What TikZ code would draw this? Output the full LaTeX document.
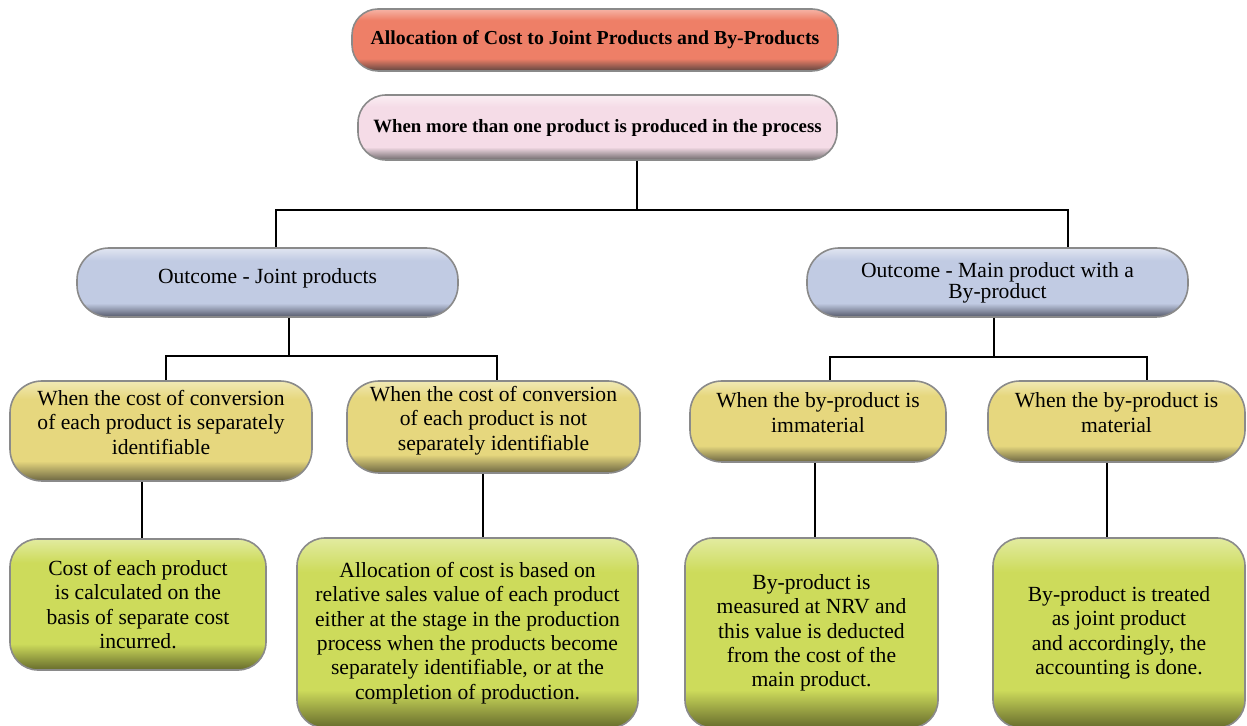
\documentclass[tikz,border=0pt]{standalone}
\usepackage{fontspec}
\setmainfont{Liberation Serif}
\usetikzlibrary{calc}

\definecolor{boxline}{HTML}{8A8A8A}
\definecolor{redMain}{HTML}{EE7F67}
\definecolor{redTop}{HTML}{F6B4A6}
\definecolor{redLow}{HTML}{5E4540}
\definecolor{pinkMain}{HTML}{F5DCE7}
\definecolor{pinkTop}{HTML}{FBEFF4}
\definecolor{pinkLow}{HTML}{6E696B}
\definecolor{blueMain}{HTML}{C1CBE3}
\definecolor{blueTop}{HTML}{E1E5F1}
\definecolor{blueLow}{HTML}{55596A}
\definecolor{yelMain}{HTML}{E6D77E}
\definecolor{yelTop}{HTML}{F1E9B5}
\definecolor{yelLow}{HTML}{6C6642}
\definecolor{grnMain}{HTML}{CDDB5B}
\definecolor{grnTop}{HTML}{E2EBA0}
\definecolor{grnLow}{HTML}{666B2C}

% glossy fill: light top, flat middle, dark band at the bottom
\newcommand{\glossy}[4]{%
  \pgfdeclareverticalshading{#1}{100bp}{%
    color(0bp)=(#4); color(25bp)=(#4); color(35bp)=(#2);
    color(66bp)=(#2); color(75bp)=(#3); color(100bp)=(#3)}}
\glossy{redgloss}{redMain}{redTop}{redLow}
\glossy{pinkgloss}{pinkMain}{pinkTop}{pinkLow}
\glossy{bluegloss}{blueMain}{blueTop}{blueLow}
\glossy{yelgloss}{yelMain}{yelTop}{yelLow}
\glossy{grngloss}{grnMain}{grnTop}{grnLow}

\begin{document}
\begin{tikzpicture}[
  x=0.5pt, y=-0.5pt,
  every node/.style={
    draw=boxline,
    line width=0.8pt,
    shade,
    align=center,
    inner sep=0pt,
    rounded corners=14pt,
    font=\fontsize{10.8}{12.2}\selectfont,
  },
  head/.style={shading=redgloss, rounded corners=13pt,
    font=\fontsize{9.9}{12}\selectfont\bfseries},
  case/.style={shading=pinkgloss, rounded corners=14pt,
    font=\fontsize{9.4}{12}\selectfont\bfseries},
  outcome/.style={shading=bluegloss, rounded corners=16pt},
  cond/.style={shading=yelgloss, rounded corners=16pt, text depth=9pt},
  rule/.style={shading=grngloss, rounded corners=14pt},
  link/.style={draw=black, line width=0.7pt},
  ]
  \useasboundingbox (0,0) rectangle (1247,726);

  \node[head, minimum width=243pt, minimum height=31pt] (n0) at (595,40)
    {Allocation of Cost to Joint Products and By-Products};
  \node[case, minimum width=239.5pt, minimum height=32.5pt] (n1) at (597.5,127.5)
    {When more than one product is produced in the process};

  \node[outcome, minimum width=190.5pt, minimum height=34.5pt, text depth=6pt] (n2) at (267.5,282.5)
    {Outcome - Joint products};
  \node[outcome, minimum width=190.5pt, minimum height=34.5pt,
    font=\fontsize{10.8}{10.4}\selectfont] (n3) at (997.5,282.5)
    {Outcome - Main product with a\\By-product};

  \node[cond, minimum width=151pt, minimum height=50pt] (n4) at (161,431)
    {When the cost of conversion\\of each product is separately\\identifiable};
  \node[cond, minimum width=146.5pt, minimum height=46pt] (n5) at (493.5,427)
    {When the cost of conversion\\of each product is not\\separately identifiable};
  \node[cond, minimum width=128pt, minimum height=40.5pt] (n6) at (818,421.5)
    {When the by-product is\\immaterial};
  \node[cond, minimum width=128.5pt, minimum height=40.5pt] (n7) at (1116.5,421.5)
    {When the by-product is\\material};

  \node[rule, minimum width=128pt, minimum height=65.5pt] (n8) at (138,604.5)
    {Cost of each product\\is calculated on the\\basis of separate cost\\incurred.};
  \node[rule, minimum width=170.5pt, minimum height=95pt] (n9) at (467.5,633)
    {Allocation of cost is based on\\relative sales value of each product\\either at the stage in the production\\process when the products become\\separately identifiable, or at the\\completion of production.};
  \node[rule, minimum width=126.5pt, minimum height=95pt] (n10) at (811.5,633)
    {By-product is\\measured at NRV and\\this value is deducted\\from the cost of the\\main product.};
  \node[rule, minimum width=126pt, minimum height=95pt] (n11) at (1119,633)
    {By-product is treated\\as joint product\\and accordingly, the\\accounting is done.};

  % junctions and drop lines
  \coordinate (j1) at (637,210);
  \coordinate (j2) at (289,356);
  \coordinate (j3) at (994,357);
  \coordinate (a2) at (276,0);
  \coordinate (a3) at (1068,0);
  \coordinate (a4) at (166,0);
  \coordinate (a5) at (497,0);
  \coordinate (a6) at (830,0);
  \coordinate (a7) at (1147,0);
  \coordinate (b4) at (142,0);
  \coordinate (b5) at (483,0);
  \coordinate (b6) at (815,0);
  \coordinate (b7) at (1107,0);

  \draw[link] (n1.south -| j1) -- (j1);
  \draw[link] (n2.north -| a2) |- (j1) -| (n3.north -| a3);
  \draw[link] (n2.south -| j2) -- (j2);
  \draw[link] (n4.north -| a4) |- (j2) -| (n5.north -| a5);
  \draw[link] (n3.south -| j3) -- (j3);
  \draw[link] (n6.north -| a6) |- (j3) -| (n7.north -| a7);
  \draw[link] (n4.south -| b4) -- (n8.north -| b4);
  \draw[link] (n5.south -| b5) -- (n9.north -| b5);
  \draw[link] (n6.south -| b6) -- (n10.north -| b6);
  \draw[link] (n7.south -| b7) -- (n11.north -| b7);
\end{tikzpicture}
\end{document}
